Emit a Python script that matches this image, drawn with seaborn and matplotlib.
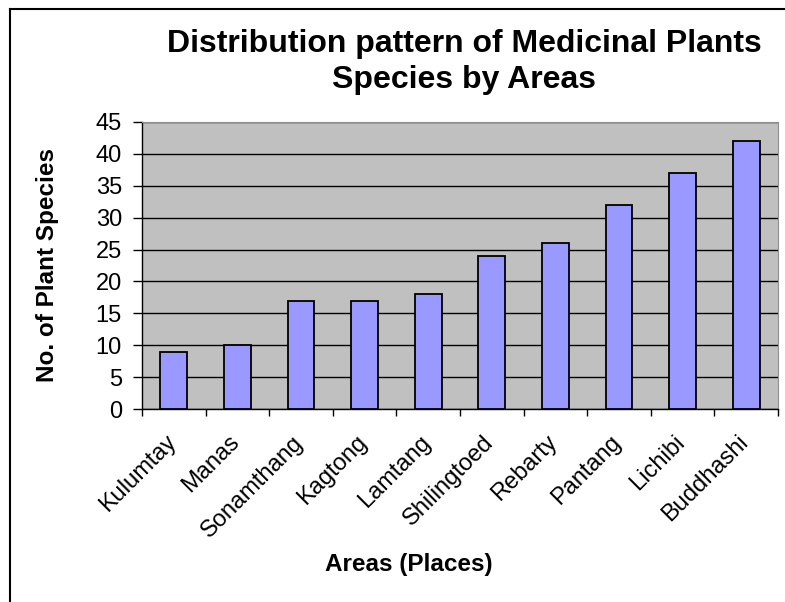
import pandas as pd
import matplotlib.pyplot as plt
import seaborn as sns
from matplotlib.lines import Line2D
from matplotlib.transforms import ScaledTranslation

areas = ["Kulumtay", "Manas", "Sonamthang", "Kagtong", "Lamtang",
         "Shilingtoed", "Rebarty", "Pantang", "Lichibi", "Buddhashi"]
species = [9, 10, 17, 17, 18, 24, 26, 32, 37, 42]
yticks = [0, 5, 10, 15, 20, 25, 30, 35, 40, 45]

df = pd.DataFrame({"area": areas, "species": species})

plt.rcParams['font.family'] = ['Liberation Sans', 'DejaVu Sans']

fig = plt.figure(figsize=(7.85, 6.02), dpi=100)
ax = fig.add_axes([142/785, 1 - 409/602, 636/785, 287/602])
ax.set_facecolor('#C0C0C0')

sns.barplot(data=df, x='area', y='species', color='#9999FF', width=0.42,
            edgecolor='black', linewidth=1.3, saturation=1, ax=ax, zorder=3)

ax.set_ylim(0, 45)
ax.set_xlim(-0.5, len(areas) - 0.5)
ax.set_yticks(yticks)
ax.yaxis.grid(True, color='black', linewidth=1)
ax.set_axisbelow(True)

# ticks between categories like excel
ax.set_xticks([i - 0.5 for i in range(len(areas) + 1)], minor=True)
ax.tick_params(axis='x', which='minor', length=5, width=1, direction='out')
ax.tick_params(axis='x', which='major', length=0, pad=16, labelsize=17)
ax.tick_params(axis='y', length=6.5, width=1, pad=8, labelsize=17)
ax.set_xticks(range(len(areas)))
ax.set_xticklabels(areas, rotation=45, ha='right', va='top', rotation_mode='anchor')
shift = ScaledTranslation(-9/100, 0, fig.dpi_scale_trans)
for lab in ax.get_xticklabels():
    lab.set_transform(lab.get_transform() + shift)

for s in ['top', 'right']:
    ax.spines[s].set_color('#909090')
for s in ['left', 'bottom']:
    ax.spines[s].set_color('black')
    ax.spines[s].set_linewidth(1)

ax.set_xlabel("Areas (Places)", fontsize=17.5, fontweight='bold')
ax.set_ylabel("No. of Plant Species", fontsize=17.5, fontweight='bold')
ax.xaxis.set_label_coords(0.42, -0.50)
ax.yaxis.set_label_coords(-0.13, 0.5)

fig.text(464/785, 1 - 62/602, "Distribution pattern of Medicinal Plants\nSpecies by Areas",
         ha='center', va='center', fontsize=23, fontweight='bold', linespacing=1.25)

# chart border (left and top visible)
fig.add_artist(Line2D([10/785, 10/785], [0, 1 - 9/602], color='black', linewidth=1.5))
fig.add_artist(Line2D([10/785, 1], [1 - 9/602, 1 - 9/602], color='black', linewidth=1.5))

fig.savefig('out.png', dpi=100)
